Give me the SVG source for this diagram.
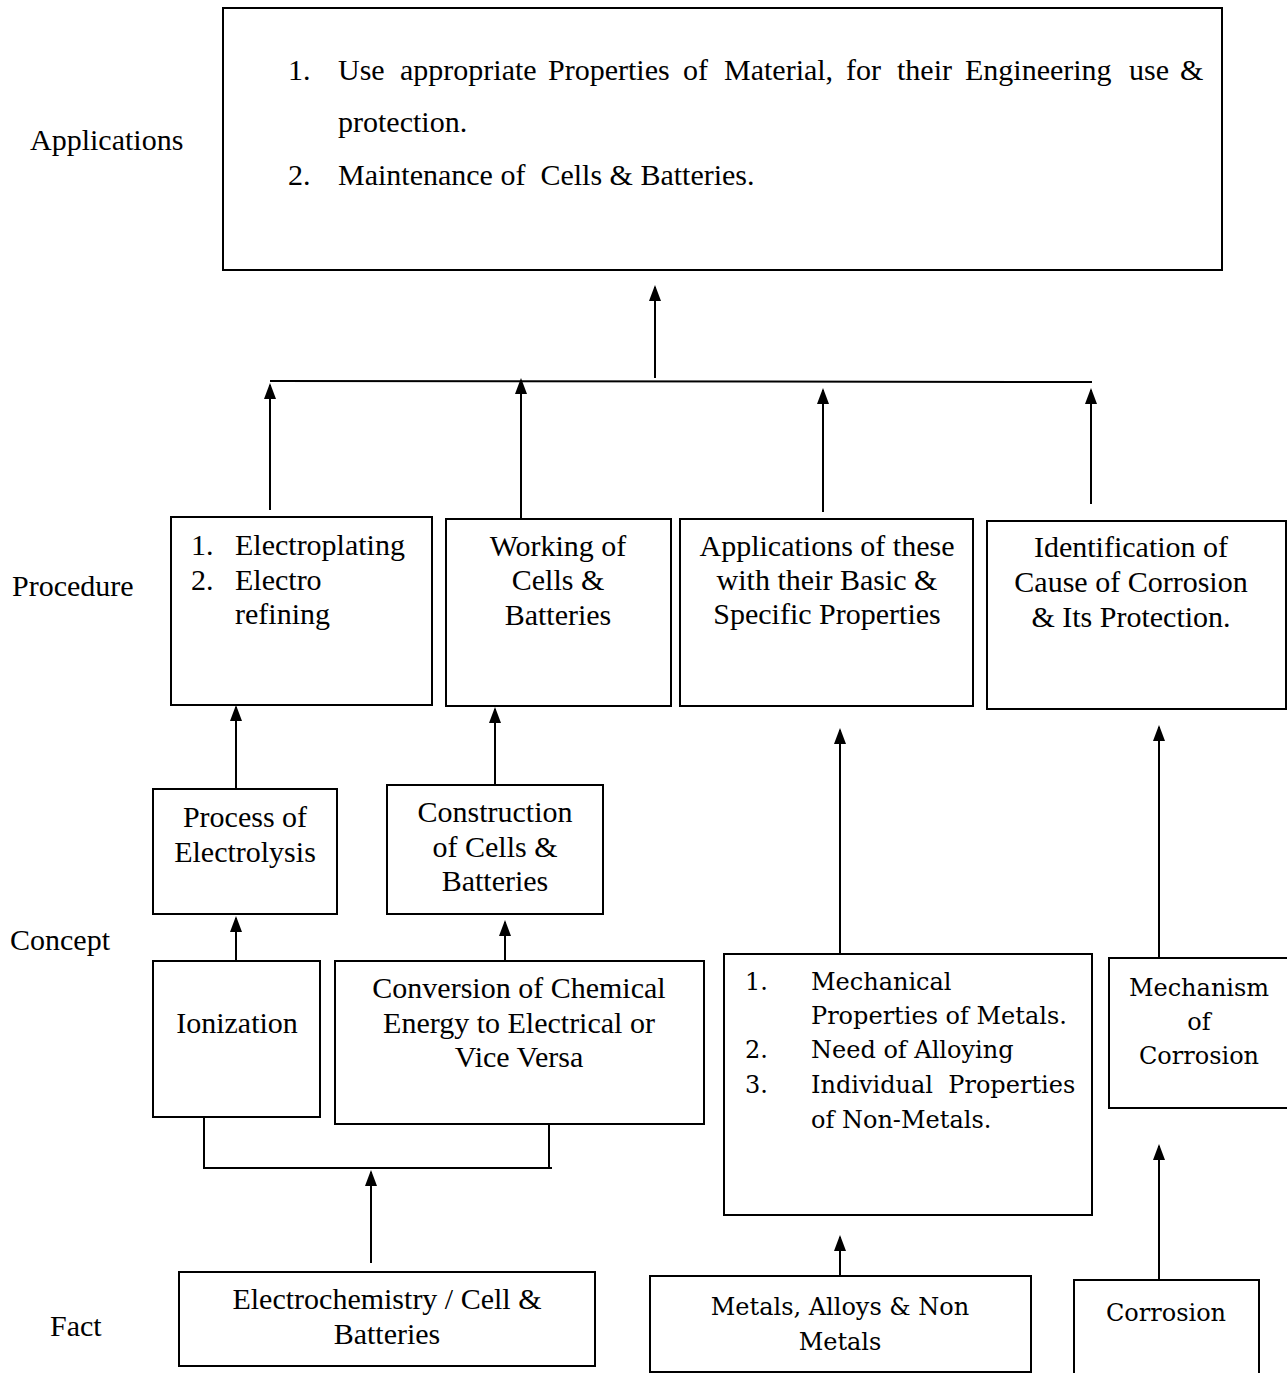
<svg xmlns="http://www.w3.org/2000/svg" width="1287" height="1373" viewBox="0 0 1287 1373">
<style>
.box{fill:#fff;stroke:#000;stroke-width:2}
.ln{fill:none;stroke:#000;stroke-width:2}
.t{font-family:"Liberation Serif","Times New Roman",serif;font-size:30px;fill:#000}
.c{text-anchor:middle}
.w{font-family:"DejaVu Serif",serif;font-size:24px;fill:#000}
</style>
<defs>
<marker id="ah" markerUnits="userSpaceOnUse" markerWidth="16" markerHeight="12" viewBox="0 0 16 12" refX="14" refY="6" orient="auto">
<path d="M0,0 L16,6 L0,12 Z" fill="#000"/>
</marker>
</defs>
<rect width="1287" height="1373" fill="#fff"/>
<g id="labels">
<text class="t" x="30" y="150">Applications</text>
<text class="t" x="12" y="596">Procedure</text>
<text class="t" x="10" y="950">Concept</text>
<text class="t" x="50" y="1336">Fact</text>
</g>
<g id="applications">
<rect class="box" x="223" y="8" width="999" height="262"/>
<text class="t" y="80"><tspan x="288">1.</tspan><tspan x="338">Use</tspan><tspan x="400">appropriate</tspan><tspan x="548">Properties</tspan><tspan x="683">of</tspan><tspan x="724">Material,</tspan><tspan x="846">for</tspan><tspan x="897">their</tspan><tspan x="965">Engineering</tspan><tspan x="1129">use</tspan><tspan x="1180">&amp;</tspan></text>
<text class="t" x="338" y="132">protection.</text>
<text class="t" y="185" xml:space="preserve"><tspan x="288">2.</tspan><tspan x="338">Maintenance of  Cells &amp; Batteries.</tspan></text>
</g>
<g id="electroplating">
<rect class="box" x="171" y="517" width="261" height="188"/>
<text class="t" y="555"><tspan x="191">1.</tspan><tspan x="235">Electroplating</tspan></text>
<text class="t" y="590"><tspan x="191">2.</tspan><tspan x="235">Electro</tspan></text>
<text class="t" x="235" y="624">refining</text>
</g>
<g id="working">
<rect class="box" x="446" y="519" width="225" height="187"/>
<text class="t c" x="558" y="556">Working of</text>
<text class="t c" x="558" y="590">Cells &amp;</text>
<text class="t c" x="558" y="625">Batteries</text>
</g>
<g id="applications-props">
<rect class="box" x="680" y="519" width="293" height="187"/>
<text class="t c" x="827" y="556">Applications of these</text>
<text class="t c" x="827" y="590">with their Basic &amp;</text>
<text class="t c" x="827" y="624">Specific Properties</text>
</g>
<g id="identification">
<rect class="box" x="987" y="521" width="299" height="188"/>
<text class="t c" x="1131" y="557">Identification of</text>
<text class="t c" x="1131" y="592">Cause of Corrosion</text>
<text class="t c" x="1131" y="627">&amp; Its Protection.</text>
</g>
<g id="electrolysis">
<rect class="box" x="153" y="789" width="184" height="125"/>
<text class="t c" x="245" y="827">Process of</text>
<text class="t c" x="245" y="862">Electrolysis</text>
</g>
<g id="construction">
<rect class="box" x="387" y="785" width="216" height="129"/>
<text class="t c" x="495" y="822">Construction</text>
<text class="t c" x="495" y="857">of Cells &amp;</text>
<text class="t c" x="495" y="891">Batteries</text>
</g>
<g id="ionization">
<rect class="box" x="153" y="961" width="167" height="156"/>
<text class="t c" x="237" y="1033">Ionization</text>
</g>
<g id="conversion">
<rect class="box" x="335" y="961" width="369" height="163"/>
<text class="t c" x="519" y="998">Conversion of Chemical</text>
<text class="t c" x="519" y="1033">Energy to Electrical or</text>
<text class="t c" x="519" y="1067">Vice Versa</text>
</g>
<g id="mechanical">
<rect class="box" x="724" y="954" width="368" height="261"/>
<text class="w" y="990"><tspan x="745">1.</tspan><tspan x="811">Mechanical</tspan></text>
<text class="w" x="811" y="1024">Properties of Metals.</text>
<text class="w" y="1058"><tspan x="745">2.</tspan><tspan x="811">Need of Alloying</tspan></text>
<text class="w" y="1093" xml:space="preserve"><tspan x="745">3.</tspan><tspan x="811">Individual  Properties</tspan></text>
<text class="w" x="811" y="1128">of Non-Metals.</text>
</g>
<g id="mechanism">
<rect class="box" x="1109" y="958" width="190" height="150"/>
<text class="w c" x="1199" y="996">Mechanism</text>
<text class="w c" x="1199" y="1030">of</text>
<text class="w c" x="1199" y="1064">Corrosion</text>
</g>
<g id="electrochemistry">
<rect class="box" x="179" y="1272" width="416" height="94"/>
<text class="t c" x="387" y="1309">Electrochemistry / Cell &amp;</text>
<text class="t c" x="387" y="1344">Batteries</text>
</g>
<g id="metals">
<rect class="box" x="650" y="1276" width="381" height="96"/>
<text class="w c" x="840" y="1315">Metals, Alloys &amp; Non</text>
<text class="w c" x="840" y="1350">Metals</text>
</g>
<g id="corrosion">
<path class="ln" d="M1074,1380 V1280 H1259 V1380"/>
<text class="w c" x="1166" y="1321">Corrosion</text>
</g>
<g id="connectors">
<line class="ln" x1="655" y1="378" x2="655" y2="287" marker-end="url(#ah)"/>
<line class="ln" x1="270" y1="381" x2="1092" y2="382"/>
<line class="ln" x1="270" y1="510" x2="270" y2="385" marker-end="url(#ah)"/>
<line class="ln" x1="521" y1="519" x2="521" y2="380" marker-end="url(#ah)"/>
<line class="ln" x1="823" y1="512" x2="823" y2="390" marker-end="url(#ah)"/>
<line class="ln" x1="1091" y1="504" x2="1091" y2="390" marker-end="url(#ah)"/>
<line class="ln" x1="236" y1="789" x2="236" y2="707" marker-end="url(#ah)"/>
<line class="ln" x1="495" y1="785" x2="495" y2="709" marker-end="url(#ah)"/>
<line class="ln" x1="236" y1="961" x2="236" y2="918" marker-end="url(#ah)"/>
<line class="ln" x1="505" y1="961" x2="505" y2="922" marker-end="url(#ah)"/>
<line class="ln" x1="204" y1="1117" x2="204" y2="1167"/>
<line class="ln" x1="549" y1="1124" x2="549" y2="1167"/>
<line class="ln" x1="203" y1="1168" x2="552" y2="1168"/>
<line class="ln" x1="371" y1="1263" x2="371" y2="1172" marker-end="url(#ah)"/>
<line class="ln" x1="840" y1="954" x2="840" y2="730" marker-end="url(#ah)"/>
<line class="ln" x1="1159" y1="958" x2="1159" y2="727" marker-end="url(#ah)"/>
<line class="ln" x1="840" y1="1276" x2="840" y2="1237" marker-end="url(#ah)"/>
<line class="ln" x1="1159" y1="1280" x2="1159" y2="1146" marker-end="url(#ah)"/>
</g>
</svg>
